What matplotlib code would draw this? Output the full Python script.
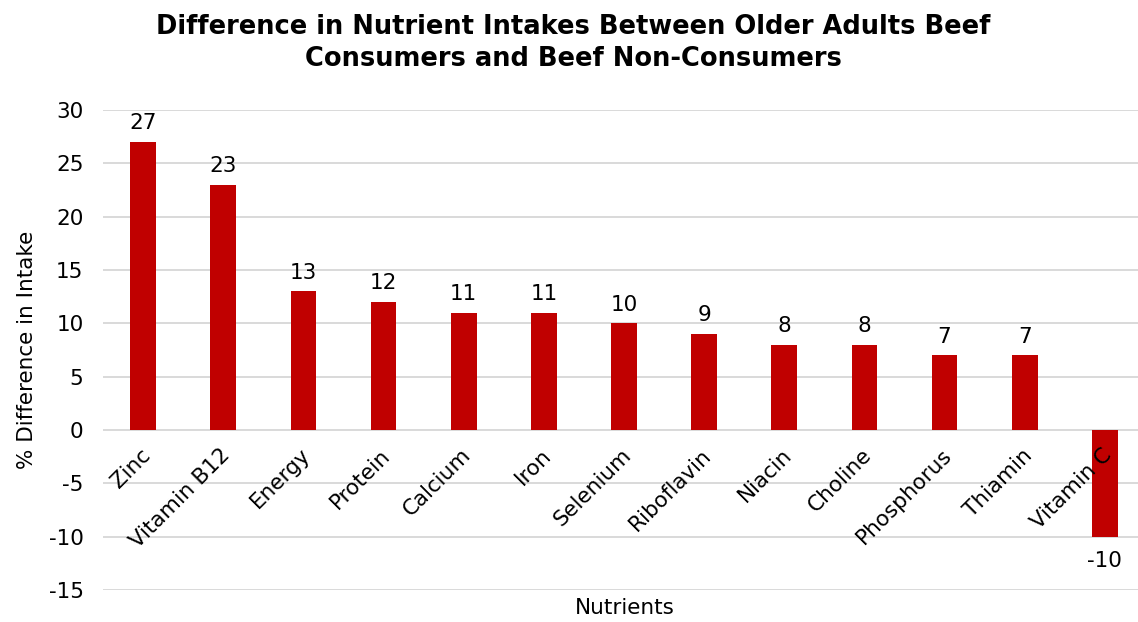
import matplotlib.pyplot as plt

nutrients = ["Zinc", "Vitamin B12", "Energy", "Protein", "Calcium", "Iron",
             "Selenium", "Riboflavin", "Niacin", "Choline", "Phosphorus",
             "Thiamin", "Vitamin C"]
pct_diff = [27, 23, 13, 12, 11, 11, 10, 9, 8, 8, 7, 7, -10]
yticks = [-15, -10, -5, 0, 5, 10, 15, 20, 25, 30]

plt.rcParams['font.family'] = ['DejaVu Sans']

fig = plt.figure(figsize=(11.38, 6.22), dpi=100)
ax = fig.add_axes([103 / 1138, 1 - 590 / 622, 1042 / 1138, 480 / 622])

x = list(range(len(nutrients)))
ax.bar(x, pct_diff, width=0.32, color="#c00000", zorder=3)

ax.set_xlim(-0.5, len(nutrients) - 0.5)
ax.set_ylim(-15, 30)
ax.set_yticks(yticks)
ax.set_yticklabels([str(t) for t in yticks], fontsize=15.5)
ax.set_xticks([])
ax.tick_params(axis="y", length=0, pad=14)
ax.grid(axis="y", color="#d9d9d9", linewidth=1.4, zorder=0)
for s in ax.spines.values():
    s.set_visible(False)

# category names sit just under the zero line, slanted
for xi, name in zip(x, nutrients):
    ax.text(xi - 0.04, -1.4, name, rotation=45, ha="right", va="top",
            rotation_mode="anchor", fontsize=15.5)

# value labels
for xi, v in zip(x, pct_diff):
    if v >= 0:
        ax.text(xi, v + 0.8, str(v), ha="center", va="bottom", fontsize=15.5)
    else:
        ax.text(xi, v - 1.3, str(v), ha="center", va="top", fontsize=15.5)

ax.set_ylabel("% Difference in Intake", fontsize=15.5, labelpad=8)
fig.text(625 / 1138, 1 - 608 / 622, "Nutrients", ha="center", va="center",
         fontsize=15.5)
fig.text(573 / 1138, 1 - 43 / 622,
         "Difference in Nutrient Intakes Between Older Adults Beef\n"
         "Consumers and Beef Non-Consumers",
         ha="center", va="center", fontsize=18.5, fontweight="bold",
         linespacing=1.35)

fig.savefig("out.png", dpi=100)
